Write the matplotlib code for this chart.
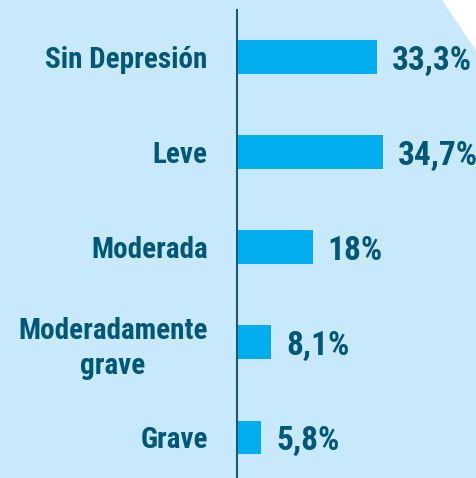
import matplotlib.pyplot as plt
from matplotlib.patches import Polygon

# Data
categories = ["Sin Depresión", "Leve", "Moderada", "Moderadamente\ngrave", "Grave"]
values = [33.3, 34.7, 18.0, 8.1, 5.8]
value_labels = ["33,3%", "34,7%", "18%", "8,1%", "5,8%"]

# Colours
BG = "#c8e9fb"
BAR = "#00aeef"
TEXT = "#005878"
AXIS = "#1b5a70"

plt.rcParams["font.family"] = ["Roboto Condensed", "DejaVu Sans"]

W, H = 477, 478
fig = plt.figure(figsize=(W / 100, H / 100), dpi=100)
fig.patch.set_facecolor(BG)

# white folded corner at top right
fig.patches.append(Polygon([(442 / W, 1), (1, 1), (1, 1 - 52 / H)],
                           closed=True, transform=fig.transFigure,
                           facecolor="white", edgecolor="none"))

ax = fig.add_axes([237 / W, 0, 1 - 237 / W, 468 / H])
ax.set_facecolor("none")

pos = list(range(len(categories)))
ax.barh(pos, values, height=0.35, color=BAR, edgecolor="none")
ax.set_xlim(0, (W - 237) / 4.2)
ax.set_ylim(4.43, -0.495)

for p, v, lab in zip(pos, values, value_labels):
    ax.annotate(lab, (v, p), xytext=(15, -4), textcoords="offset pixels",
                ha="left", va="center", fontsize=24, fontweight="bold", color=TEXT)

ax.set_yticks(pos)
ax.set_yticklabels(categories, fontsize=21, fontweight="bold", color=TEXT,
                   linespacing=1.3)
for t in ax.get_yticklabels():
    t.set_multialignment("center")
ax.tick_params(axis="y", length=0, pad=21)
ax.set_xticks([])

for side in ["top", "right", "bottom"]:
    ax.spines[side].set_visible(False)
ax.spines["left"].set_color(AXIS)
ax.spines["left"].set_linewidth(1.5)

fig.savefig("out.png", dpi=100, facecolor=BG)
